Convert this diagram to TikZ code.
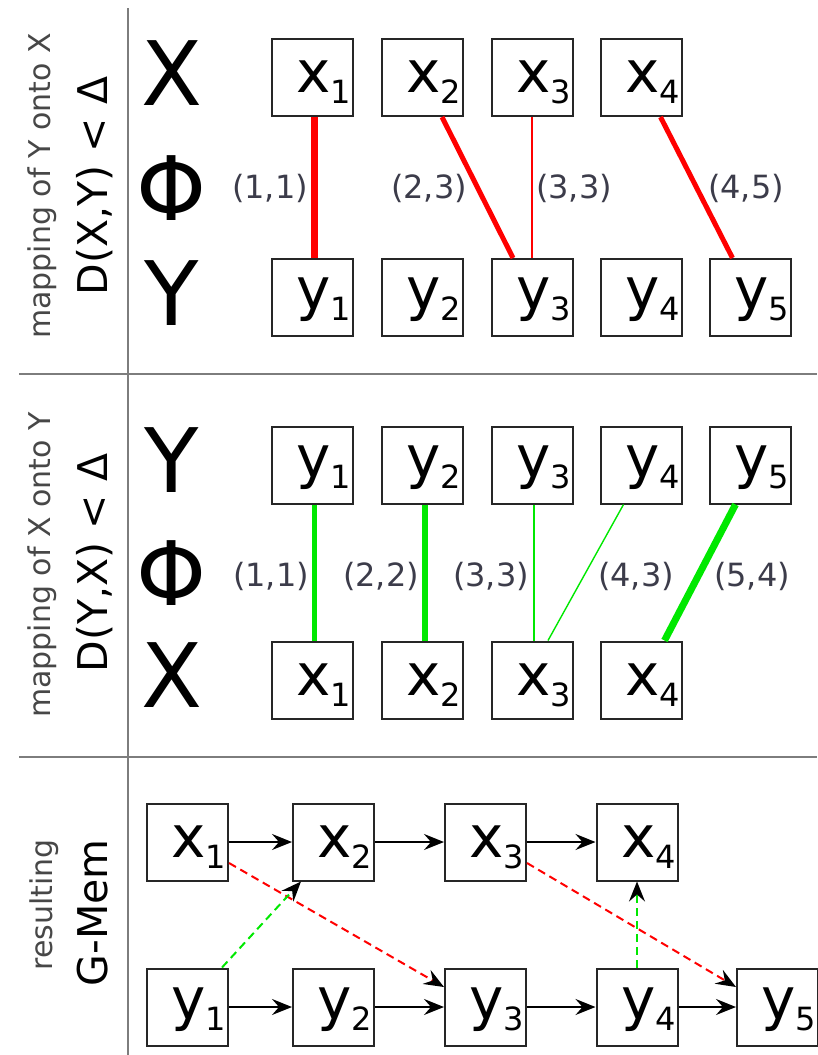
\documentclass[tikz,border=0pt]{standalone}
\usepackage{fontspec}
\setmainfont{DejaVu Sans}
\usetikzlibrary{arrows.meta}

\definecolor{mapred}{RGB}{255,0,0}
\definecolor{mapgreen}{RGB}{0,232,0}
\definecolor{pairtxt}{RGB}{60,60,74}
\definecolor{sepgray}{RGB}{125,125,125}

% element label: letter with a lowered index, set left in a fixed-width box
\newcommand\elem[2]{\makebox[78pt][l]{\hspace*{23pt}{\fontsize{58}{58}\selectfont #1}\raisebox{-11pt}{\fontsize{32}{32}\selectfont #2}}}

\tikzset{
  elbox/.style={draw=black!85, line width=2pt, minimum width=81pt, minimum height=77pt, inner sep=0pt, text height=34pt},
  xbox/.style={elbox, text depth=4pt},
  ybox/.style={elbox, text depth=10pt},
  setname/.style={font=\fontsize{89}{89}\selectfont, anchor=base, inner sep=0pt},
  pair/.style={font=\fontsize{32}{32}\selectfont, text=pairtxt, inner sep=0pt},
  sidesmall/.style={font=\fontsize{30}{30}\selectfont, text=black!72, rotate=90, anchor=base, inner sep=0pt},
  sidebig/.style={font=\fontsize{41}{41}\selectfont, rotate=90, anchor=base, inner sep=0pt},
  sep/.style={draw=sepgray, line width=1.8pt},
  redmap/.style={draw=mapred},
  greenmap/.style={draw=mapgreen},
  flow/.style={draw=black, line width=1.6pt, -{Stealth[length=20pt,width=16pt,inset=7pt,color=black]}},
  reddash/.style={flow, draw=mapred, line width=2pt, dash pattern=on 8pt off 5pt},
  greendash/.style={flow, draw=mapgreen, line width=2pt, dash pattern=on 8pt off 5pt},
}

\begin{document}
\begin{tikzpicture}[x=1pt,y=-1pt]
\useasboundingbox (0,0) rectangle (817,1055);

% panel separators
\draw[sep] (128,8) -- (128,1055);
\draw[sep] (19,374) -- (817,374);
\draw[sep] (19,757) -- (817,757);

% ---------- panel 1: mapping of Y onto X ----------
\node[sidesmall] (capA1) at (50,186) {mapping of Y onto X};
\node[sidebig]   (capA2) at (107,186) {D(X,Y) < Δ};

\node[setname] (sA1) at (171.5,105) {X};
\node[setname] (sA2) at (171.5,220) {Φ};
\node[setname] (sA3) at (171.5,325) {Y};

\node[xbox] (tx1) at (312.5,77.5) {\elem{x}{1}};
\node[xbox] (tx2) at (422,77.5)   {\elem{x}{2}};
\node[xbox] (tx3) at (532,77.5)   {\elem{x}{3}};
\node[xbox] (tx4) at (641.5,77.5) {\elem{x}{4}};

\node[ybox] (ty1) at (312.5,297.5) {\elem{y}{1}};
\node[ybox] (ty2) at (422,297.5)   {\elem{y}{2}};
\node[ybox] (ty3) at (532,297.5)   {\elem{y}{3}};
\node[ybox] (ty4) at (641.5,297.5) {\elem{y}{4}};
\node[ybox] (ty5) at (750.5,297.5) {\elem{y}{5}};

\draw[redmap, line width=7pt]   ([xshift=2pt]tx1.south) -- ([xshift=2pt]ty1.north);
\draw[redmap, line width=5pt]   ([xshift=20pt]tx2.south) -- ([xshift=-19pt]ty3.north);
\draw[redmap, line width=2pt]   (tx3.south) -- (ty3.north);
\draw[redmap, line width=5pt]   ([xshift=19pt]tx4.south) -- ([xshift=-18pt]ty5.north);

\node[pair] (pA1) at (270,188) {(1,1)};
\node[pair] (pA2) at (429,188) {(2,3)};
\node[pair] (pA3) at (574,188) {(3,3)};
\node[pair] (pA4) at (746,188) {(4,5)};

% ---------- panel 2: mapping of X onto Y ----------
\node[sidesmall] (capB1) at (50,565) {mapping of X onto Y};
\node[sidebig]   (capB2) at (107,563) {D(Y,X) < Δ};

\node[setname] (sB1) at (171.5,492.5) {Y};
\node[setname] (sB2) at (171.5,605)   {Φ};
\node[setname] (sB3) at (171.5,707.5) {X};

\node[ybox] (my1) at (312.5,465) {\elem{y}{1}};
\node[ybox] (my2) at (422,465)   {\elem{y}{2}};
\node[ybox] (my3) at (532,465)   {\elem{y}{3}};
\node[ybox] (my4) at (641.5,465) {\elem{y}{4}};
\node[ybox] (my5) at (750.5,465) {\elem{y}{5}};

\node[xbox] (mx1) at (312.5,680) {\elem{x}{1}};
\node[xbox] (mx2) at (422,680)   {\elem{x}{2}};
\node[xbox] (mx3) at (532,680)   {\elem{x}{3}};
\node[xbox] (mx4) at (641.5,680) {\elem{x}{4}};

\draw[greenmap, line width=5pt]   ([xshift=2pt]my1.south) -- ([xshift=2pt]mx1.north);
\draw[greenmap, line width=6pt]   ([xshift=3pt]my2.south) -- ([xshift=3pt]mx2.north);
\draw[greenmap, line width=1.6pt] ([xshift=2pt]my3.south) -- ([xshift=2pt]mx3.north);
\draw[greenmap, line width=1.4pt] ([xshift=-18pt]my4.south) -- ([xshift=16pt]mx3.north);
\draw[greenmap, line width=7pt]   ([xshift=-15pt]my5.south) -- ([xshift=23pt]mx4.north);

\node[pair] (pB1) at (271,576) {(1,1)};
\node[pair] (pB2) at (381,576) {(2,2)};
\node[pair] (pB3) at (491,576) {(3,3)};
\node[pair] (pB4) at (636,576) {(4,3)};
\node[pair] (pB5) at (752,576) {(5,4)};

% ---------- panel 3: resulting G-Mem ----------
\node[sidesmall] (capC1) at (52,905) {resulting};
\node[sidebig]   (capC2) at (107,913) {G-Mem};

\node[xbox] (bx1) at (187.5,842) {\elem{x}{1}};
\node[xbox] (bx2) at (333.5,842) {\elem{x}{2}};
\node[xbox] (bx3) at (485.5,842) {\elem{x}{3}};
\node[xbox] (bx4) at (637,842)   {\elem{x}{4}};

\node[ybox] (by1) at (187.5,1007) {\elem{y}{1}};
\node[ybox] (by2) at (333.5,1007) {\elem{y}{2}};
\node[ybox] (by3) at (485.5,1007) {\elem{y}{3}};
\node[ybox] (by4) at (637,1007)   {\elem{y}{4}};
\node[ybox] (by5) at (777.5,1007) {\elem{y}{5}};

\draw[flow] (bx1) -- (bx2);
\draw[flow] (bx2) -- (bx3);
\draw[flow] (bx3) -- (bx4);
\draw[flow] (by1) -- (by2);
\draw[flow] (by2) -- (by3);
\draw[flow] (by3) -- (by4);
\draw[flow] (by4) -- (by5);

\draw[reddash]   ([yshift=-21pt]bx1.east) -- ([yshift=20pt]by3.west);
\draw[reddash]   ([yshift=-21pt]bx3.east) -- ([yshift=20pt]by5.west);
\draw[greendash] ([xshift=-7pt]by1.north east) -- ([xshift=9pt]bx2.south west);
\draw[greendash] (by4) -- (bx4);
\end{tikzpicture}
\end{document}
